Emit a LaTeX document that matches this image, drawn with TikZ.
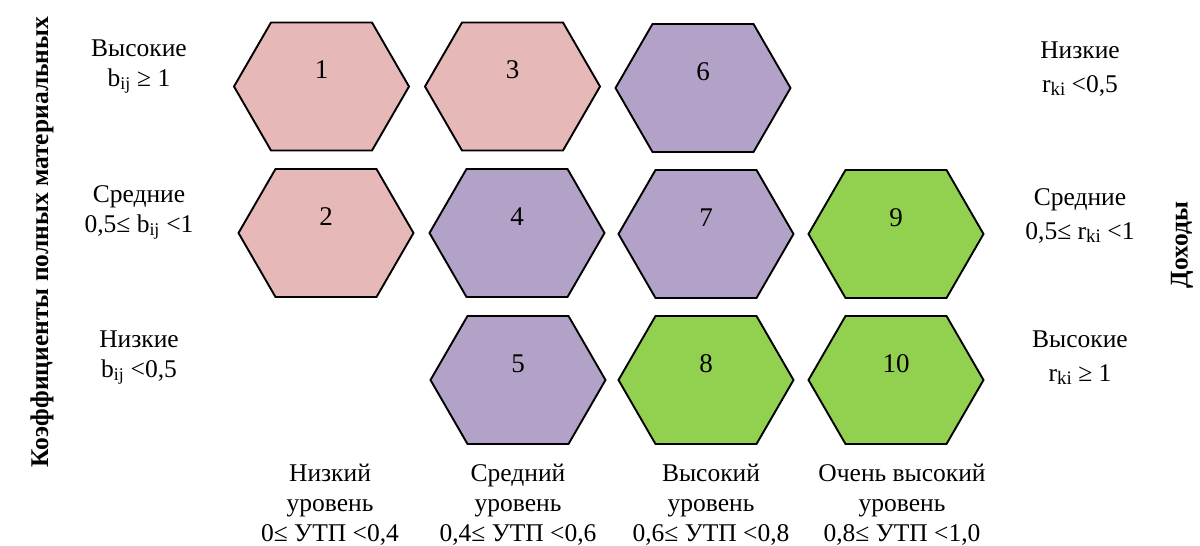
\documentclass[tikz,border=0pt]{standalone}
\usepackage{fontspec}
\setmainfont{Liberation Serif}
\definecolor{hexpink}{HTML}{E6B8B7}
\definecolor{hexpurple}{HTML}{B3A2C7}
\definecolor{hexgreen}{HTML}{92D050}
\newcommand{\rsub}[1]{\raisebox{-3pt}{\fontsize{19}{19}\selectfont #1}}
\begin{document}
\begin{tikzpicture}[x=1pt,y=-1pt,
  hexline/.style={draw=black, line width=1.9pt, line join=miter},
  numlabel/.style={font=\fontsize{27}{30}\selectfont, anchor=base, inner sep=0pt},
  sidelabel/.style={font=\fontsize{25.5}{30}\selectfont, align=center, anchor=base, inner sep=0pt},
  rightlabel/.style={sidelabel, font=\fontsize{25.5}{34}\selectfont},
  axislabel/.style={font=\bfseries\fontsize{25.5}{30}\selectfont, rotate=90, inner sep=0pt}]
\useasboundingbox (0,0) rectangle (1200,546);
\foreach \n/\cx/\cy/\col in {1/321.5/86.5/hexpink, 2/326/233/hexpink, 3/512.5/86.5/hexpink,
  4/517/233/hexpurple, 5/518/380/hexpurple, 6/703/88/hexpurple, 7/706/234/hexpurple,
  8/706/380/hexgreen, 9/896/234/hexgreen, 10/896/380/hexgreen}{
  \draw[hexline, fill=\col] (\cx-87.5,\cy) -- (\cx-50.5,\cy-64) -- (\cx+50.5,\cy-64)
    -- (\cx+87.5,\cy) -- (\cx+50.5,\cy+64) -- (\cx-50.5,\cy+64) -- cycle;
  \node[numlabel] (n\n) at (\cx,\cy-8) {\n};
}
% left labels (anchor = baseline of last line)
\node[sidelabel] (l1) at (139,86) {Высокие\\b\textsubscript{ij} ≥ 1};
\node[sidelabel] (l2) at (139,232) {Средние\\0,5≤ b\textsubscript{ij} <1};
\node[sidelabel] (l3) at (139,377) {Низкие\\b\textsubscript{ij} <0,5};
% right labels
\node[rightlabel] (r1) at (1080,92) {Низкие\\r\rsub{ki} <0,5};
\node[rightlabel] (r2) at (1080,239) {Средние\\0,5≤ r\rsub{ki} <1};
\node[rightlabel] (r3) at (1080,381) {Высокие\\r\rsub{ki} ≥ 1};
% bottom labels
\node[sidelabel] (c1) at (330,541) {Низкий\\уровень\\0≤ УТП <0,4};
\node[sidelabel] (c2) at (518,541) {Средний\\уровень\\0,4≤ УТП <0,6};
\node[sidelabel] (c3) at (711,541) {Высокий\\уровень\\0,6≤ УТП <0,8};
\node[sidelabel] (c4) at (902,541) {Очень высокий\\уровень\\0,8≤ УТП <1,0};
% axis titles
\node[axislabel] (ax1) at (42,242) {Коэффициенты полных материальных};
\node[axislabel] (ax2) at (1182,245) {Доходы};
\end{tikzpicture}
\end{document}
